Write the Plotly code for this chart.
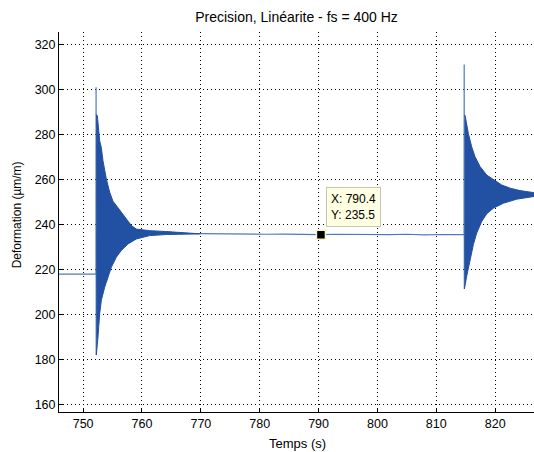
import plotly.graph_objects as go

# ---------------- data ----------------
# baseline before first step (µm/m)
pre_t = [745.9, 748.0, 750.0, 752.18]
pre_y = [218.0, 218.0, 218.1, 218.0]

# first step: thin spike then dense ringing envelope
spike1_t = [752.20, 752.22, 752.24]
spike1_y = [301.0, 182.0, 236.0]

ev1_t_up = [752.20, 752.41, 752.81, 753.09, 753.37, 753.94, 754.51, 755.07, 755.92,
            756.49, 757.34, 758.19, 759.04, 761.31, 764.14, 766.98, 769.80]
ev1_up = [289.0, 288.4, 277.3, 274.3, 268.4, 260.3, 254.4, 250.4, 247.5,
          245.5, 242.5, 239.6, 238.0, 237.3, 236.9, 236.4, 236.2]
ev1_t_lo = [752.24, 752.52, 752.81, 753.09, 753.66, 754.22, 754.79, 755.64, 756.49,
            757.62, 759.04, 761.31, 764.14, 769.80]
ev1_lo = [182.0, 190.0, 200.3, 206.3, 212.2, 216.6, 221.0, 225.5, 228.5,
          231.4, 233.6, 235.1, 235.6, 235.9]

# settled plateau between the two steps
mid_t = [769.8, 772, 775, 778, 781, 784, 787, 790.4, 793, 796, 799, 802, 805, 808, 811, 814.72]
mid_y = [236.0, 235.9, 235.8, 235.9, 235.7, 235.8, 235.6, 235.5, 235.7, 235.6, 235.8,
         235.5, 235.7, 235.4, 235.6, 235.5]

# second step
spike2_t = [814.74, 814.76, 814.78]
spike2_y = [311.2, 211.4, 236.0]

ev2_t_up = [814.80, 814.88, 815.45, 816.01, 816.58, 817.43, 818.57, 819.70, 821.12,
            822.53, 824.23, 826.60]
ev2_up = [288.6, 288.6, 280.5, 274.6, 270.2, 265.8, 262.0, 259.9, 257.6,
          256.2, 255.1, 254.2]
ev2_t_lo = [814.78, 815.16, 815.73, 816.30, 816.86, 817.72, 818.57, 819.70, 821.40,
            823.67, 826.60]
ev2_lo = [211.4, 217.0, 224.4, 231.1, 236.2, 241.4, 244.8, 247.3, 249.5, 251.3, 252.5]

# data tip
tip_x = [790.4]
tip_y = [235.5]

x_ticks = [750, 760, 770, 780, 790, 800, 810, 820]
y_ticks = [160, 180, 200, 220, 240, 260, 280, 300, 320]
x_range = [745.9, 826.6]
y_range = [156.7, 325.6]

# ---------------- figure ----------------
FILL = "#2251a3"
THIN = "#5079c4"
FONT = "Liberation Sans, Arial, sans-serif"

fig = go.Figure()

line_t = pre_t + spike1_t + mid_t + spike2_t
line_y = pre_y + spike1_y + mid_y + spike2_y
fig.add_trace(go.Scatter(x=line_t, y=line_y, mode="lines",
                         line=dict(color=THIN, width=1.2), hoverinfo="skip"))

for tu, yu, tl, yl in [(ev1_t_up, ev1_up, ev1_t_lo, ev1_lo),
                       (ev2_t_up, ev2_up, ev2_t_lo, ev2_lo)]:
    fig.add_trace(go.Scatter(x=tu + tl[::-1], y=yu + yl[::-1], mode="lines",
                             fill="toself", fillcolor=FILL,
                             line=dict(color=FILL, width=1), hoverinfo="skip"))

fig.add_trace(go.Scatter(x=tip_x, y=tip_y, mode="markers",
                         marker=dict(symbol="square", size=9, color="black",
                                     line=dict(color="#f4f4c8", width=1.5)),
                         hoverinfo="skip"))

fig.add_annotation(x=tip_x[0], y=tip_y[0], xref="x", yref="y",
                   text=f"X: {tip_x[0]}<br>Y: {tip_y[0]}",
                   showarrow=False, xanchor="left", yanchor="bottom",
                   xshift=5, yshift=8, align="left",
                   bgcolor="#ffffe1", bordercolor="#c8c8b0", borderwidth=1,
                   borderpad=4, font=dict(family=FONT, size=12, color="#000"))

# axis titles as annotations for exact placement
fig.add_annotation(text="Temps (s)", xref="paper", yref="paper", x=0.503, y=0,
                   xanchor="center", yanchor="middle", yshift=-31, showarrow=False,
                   font=dict(family=FONT, size=13, color="#000"))
fig.add_annotation(text="Deformation (µm/m)", xref="paper", yref="paper", x=0, y=0.5176,
                   xanchor="center", yanchor="middle", xshift=-42, textangle=-90,
                   showarrow=False, font=dict(family=FONT, size=12, color="#000"))

axis_common = dict(showline=True, linecolor="black", linewidth=1, mirror=False,
                   ticks="inside", ticklen=4, tickcolor="black",
                   showgrid=True, gridcolor="black", gridwidth=1, griddash="1px,3px",
                   zeroline=False, automargin=False,
                   tickfont=dict(family=FONT, size=12.5, color="#000"))

fig.update_xaxes(range=x_range, tickvals=x_ticks, **axis_common)
fig.update_yaxes(range=y_range, tickvals=y_ticks, **axis_common)

fig.update_layout(
    width=534, height=452,
    margin=dict(l=59, r=0, t=32, b=40),
    paper_bgcolor="white", plot_bgcolor="white",
    showlegend=False,
    title=dict(text="Precision, Linéarite - fs = 400 Hz", xref="paper", x=0.5,
               xanchor="center", y=1 - 17 / 452, yanchor="middle",
               font=dict(family=FONT, size=14, color="#000")),
)

fig.write_html("out.html", config={"displayModeBar": False},
               post_script="document.body.style.margin='0';")
